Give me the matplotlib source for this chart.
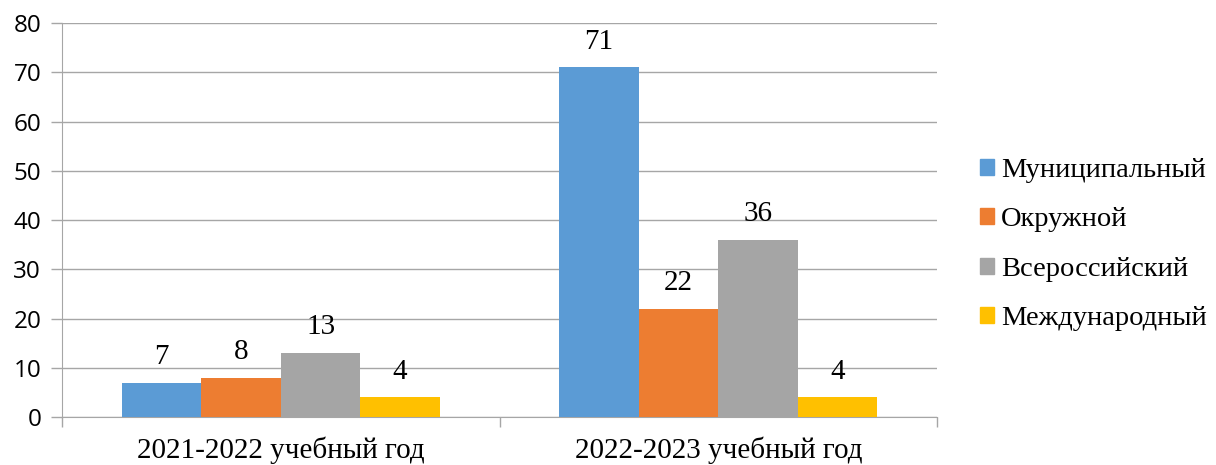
import numpy as np
import matplotlib.pyplot as plt
from matplotlib.patches import Patch

years = ['2021-2022 учебный год', '2022-2023 учебный год']
levels = ['Муниципальный', 'Окружной', 'Всероссийский', 'Международный']
values = [[7, 71], [8, 22], [13, 36], [4, 4]]
colors = ['#5b9bd5', '#ed7d31', '#a5a5a5', '#ffc000']

serif = ['Liberation Serif', 'DejaVu Serif']
grid_col = '#a6a6a6'

fig = plt.figure(figsize=(12.16, 4.65), dpi=100)
ax = fig.add_axes([0.051, 0.1032, 0.7196, 0.8473])

x = np.arange(len(years))
w = 1 / 5.5
for i, (lvl, vals) in enumerate(zip(levels, values)):
    pos = x + (i - 1.5) * w
    bars = ax.bar(pos, vals, width=w, color=colors[i], label=lvl, zorder=3)
    for b, v in zip(bars, vals):
        ax.annotate(str(v), (b.get_x() + b.get_width() / 2, v), xytext=(0, 9),
                    textcoords='offset points', ha='center', va='bottom',
                    fontsize=21, family=serif)

ax.set_xlim(-0.5, 1.5)
ax.set_ylim(0, 80)
ax.set_yticks(range(0, 81, 10))
ax.yaxis.grid(True, color=grid_col, linewidth=1, zorder=0)
ax.set_xticks([-0.5, 0.5, 1.5])
ax.set_xticklabels([])
ax.set_xticks(x, minor=True)
ax.set_xticklabels(years, minor=True, fontsize=21, family=serif)
ax.tick_params(axis='x', which='minor', length=0, pad=14)
ax.tick_params(axis='x', which='major', length=7, color=grid_col, width=1)
ax.tick_params(axis='y', length=8, color=grid_col, width=1, labelsize=17.5, pad=7)
for lab in ax.get_yticklabels():
    lab.set_family(['Open Sans', 'DejaVu Sans'])

for s in ['top', 'right']:
    ax.spines[s].set_visible(False)
ax.spines['left'].set_color(grid_col)
ax.spines['bottom'].set_color(grid_col)

handles = [Patch(color=c) for c in colors]
fig.legend(handles, levels, loc='center left', bbox_to_anchor=(0.785, 0.474),
           frameon=False, prop={'family': serif, 'size': 20.5},
           handlelength=0.47, handleheight=0.47, handletextpad=0.25, labelspacing=0.86)

fig.savefig('out.png', dpi=100)
